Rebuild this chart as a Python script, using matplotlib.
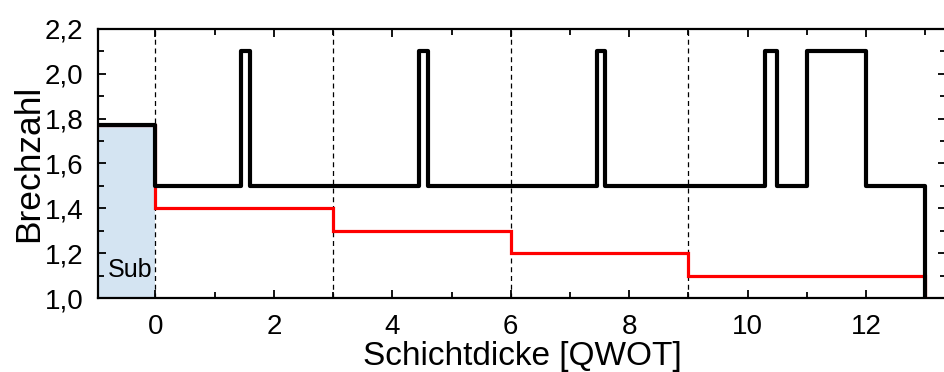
import matplotlib
matplotlib.use("Agg")
import matplotlib.pyplot as plt
from matplotlib.ticker import MultipleLocator, FuncFormatter

# Refractive-index profile (black): step edges and values
black_x = [-1.0, 0.0, 1.45, 1.6, 4.45, 4.6, 7.45, 7.6, 10.3, 10.5, 11.0, 12.0, 13.0]
black_n = [1.77, 1.5, 2.1, 1.5, 2.1, 1.5, 2.1, 1.5, 2.1, 1.5, 2.1, 1.5]

# Graded profile (red)
red_x = [0.0, 3.0, 6.0, 9.0, 13.0]
red_n = [1.4, 1.3, 1.2, 1.1]

sub_x = [-1.0, 0.0]
sub_n = 1.77
dash_x = [0, 3, 6, 9]

plt.rcParams['font.family'] = ['Liberation Sans', 'DejaVu Sans']

fig = plt.figure(figsize=(9.44, 3.72), dpi=100)
ax = fig.add_axes([98/944, 74/372, 848/944, 269/372])

ax.set_xlim(-0.97, 13.35)
ax.set_ylim(1.0, 2.2)

# substrate
ax.fill_between(sub_x, 1.0, sub_n, color='#d4e4f2', zorder=1, linewidth=0)
ax.text(-0.81, 1.095, 'Sub', fontsize=18, va='baseline', ha='left', zorder=5)

for xd in dash_x:
    ax.axvline(xd, color='black', lw=0.9, ls=(0, (4, 3)), zorder=2)

# red step line
rx = [sub_x[0], sub_x[1], red_x[0]]
ry = [sub_n, sub_n, 1.5]
for i in range(len(red_n)):
    rx += [red_x[i], red_x[i + 1]]
    ry += [red_n[i], red_n[i]]
rx += [red_x[-1]]
ry += [1.0]
ax.plot(rx, ry, color='#ff0000', lw=2.3, zorder=3, solid_joinstyle='miter')

# black step line
bx, by = [], []
for i in range(len(black_n)):
    bx += [black_x[i], black_x[i + 1]]
    by += [black_n[i], black_n[i]]
bx += [black_x[-1]]
by += [1.0]
ax.plot(bx, by, color='black', lw=3.0, zorder=4, solid_joinstyle='round')

ax.xaxis.set_major_locator(MultipleLocator(2))
ax.xaxis.set_minor_locator(MultipleLocator(1))
ax.yaxis.set_major_locator(MultipleLocator(0.2))
ax.yaxis.set_minor_locator(MultipleLocator(0.1))
ax.yaxis.set_major_formatter(FuncFormatter(lambda v, p: f"{v:.1f}".replace('.', ',')))
ax.xaxis.set_major_formatter(FuncFormatter(lambda v, p: f"{v:.0f}"))

ax.tick_params(which='both', direction='in', top=True, right=True, width=1.3, labelsize=20)
ax.tick_params(which='major', length=6)
ax.tick_params(which='minor', length=4)
ax.tick_params(axis='y', which='major', pad=10.5)
ax.tick_params(axis='x', which='major', pad=11.5)
for s in ax.spines.values():
    s.set_linewidth(1.6)

ax.set_xlabel('Schichtdicke [QWOT]', fontsize=24)
ax.set_ylabel('Brechzahl', fontsize=25.5)
ax.xaxis.set_label_coords(0.5, -0.160)
ax.yaxis.set_label_coords(-0.062, 0.5)

fig.savefig('out.png', dpi=100)
